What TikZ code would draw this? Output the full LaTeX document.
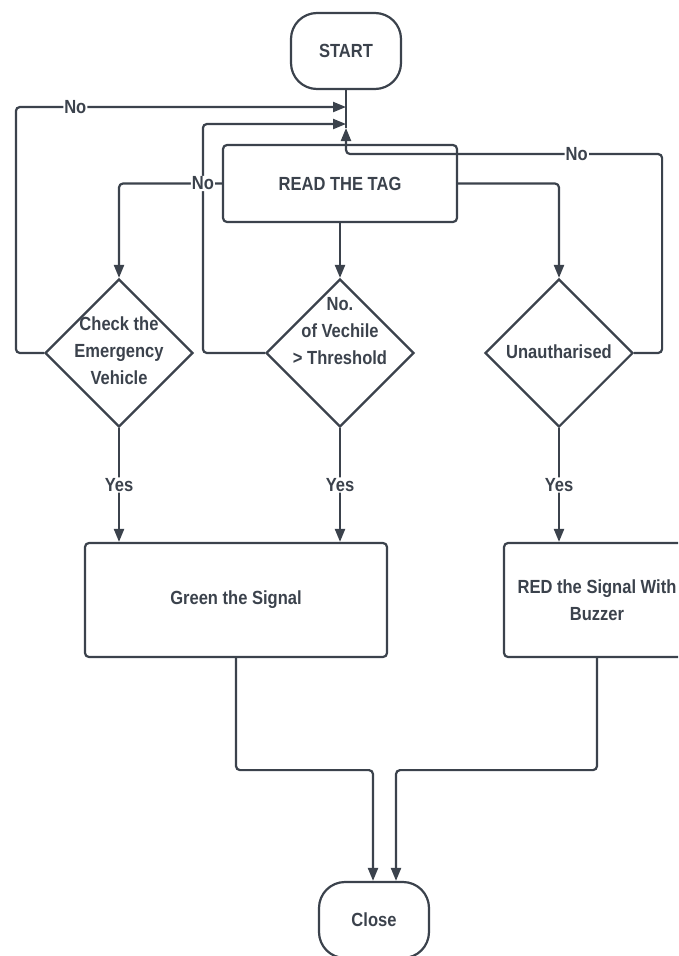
\documentclass[tikz,border=0pt]{standalone}
\usepackage{fontspec}
\usepackage{tikz}
\usetikzlibrary{arrows.meta}
\usetikzlibrary{shapes.geometric}
\usetikzlibrary{positioning}
\newfontfamily\chartfont{Liberation Sans}[FakeStretch=0.87]
\definecolor{mgray}{rgb}{0.23, 0.26, 0.30}
\tikzset{term/.style = {draw, rounded corners = 26, minimum width = 110, minimum height = 76}}
\tikzset{proc/.style = {draw, rounded corners = 4, align = center}}
\tikzset{dec/.style = {draw, diamond, aspect = 1, minimum width = 148, minimum height = 148, inner sep = 0}}
\tikzset{lbl/.style = {fill = white, inner sep = 1}}
\tikzset{flow/.style = {-{Triangle[length = 13pt, width = 10pt]}, rounded corners = 4}}

\begin{document}
\begin{tikzpicture}[x = 1pt, y = -1pt, line width = 2.2pt, mgray, font = \chartfont\bfseries\fontsize{19}{27}\selectfont]
    \useasboundingbox (0, 0) rectangle (678, 956);
    \clip (0, 0) rectangle (678, 956);

    \node [term] (start) at (346, 51) {START};
    \node [proc, minimum width = 234, minimum height = 77] (readtag) at (340, 183.5) {READ THE TAG};
    \node [dec] (emerg) at (119, 353) {};
    \node [align = center] (emergtxt) at (119, 351) {Check the\\Emergency\\Vehicle};
    \node [dec] (count) at (340, 353) {};
    \node [align = center] (counttxt) at (340, 331) {No.\\of Vechile\\> Threshold};
    \node [dec] (unauth) at (559, 353) {};
    \node [align = center] (unauthtxt) at (559, 352) {Unautharised};
    \node [proc, minimum width = 302, minimum height = 114] (green) at (236, 600) {Green the Signal};
    \node [proc, minimum width = 186, minimum height = 114] (red) at (597, 600) {RED the Signal With\\Buzzer};
    \node [term] (close) at (374, 920) {Close};

    \coordinate (in1) at (346, 107);
    \coordinate (in2) at (346, 124);
    \coordinate (in3) at (346, 128);
    \coordinate (bend) at (346, 154);

    \draw (start.south) -- (in3);
    \draw [flow] (readtag.west) -| (emerg.north);
    \draw [flow] (readtag.south) -- (count.north);
    \draw [flow] (readtag.east) -| (unauth.north);

    \draw [flow] (emerg.west) -- ++(-28, 0) |- node [lbl, pos = 0.59] {No} (in1);
    \draw [flow] (count.west) -- ++(-62, 0) |- node [lbl, pos = 0.37] {No} (in2);
    \draw [flow] (unauth.east) -- ++(28, 0) |- node [lbl, pos = 0.635] {No} (bend) -- (in3);

    \draw [flow] (emerg.south) -- node [lbl] {Yes} (emerg.south |- green.north);
    \draw [flow] (count.south) -- node [lbl] {Yes} (count.south |- green.north);
    \draw [flow] (unauth.south) -- node [lbl] {Yes} (unauth.south |- red.north);

    \draw [flow] (green.south) -- ++(0, 112) -| ([xshift = -1]close.north);
    \draw [flow] (red.south) -- ++(0, 112) -| ([xshift = 22]close.north);
  \end{tikzpicture}
\end{document}
